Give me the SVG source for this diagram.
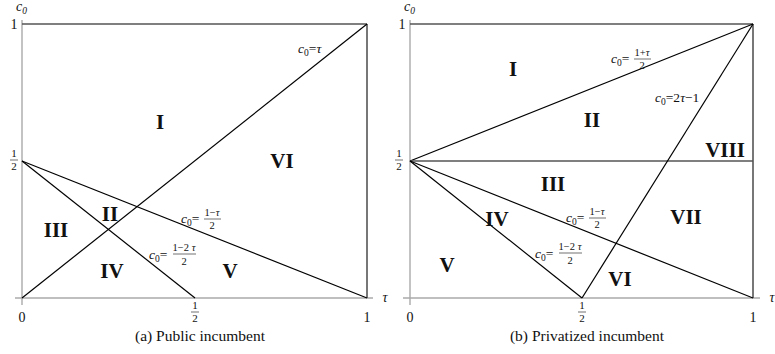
<svg xmlns="http://www.w3.org/2000/svg" width="775" height="354" viewBox="0 0 775 354" font-family="'Liberation Serif', 'DejaVu Serif', serif">
<style>
text{font-family:"Liberation Serif","DejaVu Serif",serif;fill:#111}
.ax{stroke:#aaa;stroke-width:1.4;fill:none}
.fr{stroke:#555;stroke-width:1.6;fill:none}
.ln{stroke:#000;stroke-width:1.2;fill:none}
.rn{font-size:21px;font-weight:bold;text-anchor:middle}
.eq{font-size:13.5px}
.it{font-style:italic}
.sub{font-size:9.5px}
.fn{font-size:10.5px;text-anchor:middle}
.fb{stroke:#111;stroke-width:0.6}
.tk{font-size:14px;text-anchor:middle}
.tf{font-size:11px;text-anchor:middle}
.cap{font-size:15.5px;text-anchor:middle}
</style>
<g id="panel-a-axes">
<line class="ax" x1="22" y1="20" x2="22" y2="305"/>
<line class="ax" x1="15" y1="298" x2="373" y2="298"/>
<line class="fr" x1="22" y1="24" x2="367" y2="24"/>
<line class="fr" x1="367" y1="24" x2="367" y2="298"/>
<text x="16" y="11" class="it" font-size="14">c<tspan class="sub" dy="3">0</tspan></text>
<text x="14" y="29" class="tk">1</text>
<text x="14" y="157" class="tf">1</text><line class="fb" x1="10" y1="160" x2="18" y2="160"/><text x="14" y="170" class="tf">2</text>
<text x="385" y="302" class="it" font-size="14" text-anchor="middle">τ</text>
<text x="22" y="322" class="tk">0</text>
<text x="195" y="309" class="tf">1</text><line class="fb" x1="191" y1="312" x2="199" y2="312"/><text x="195" y="322" class="tf">2</text>
<text x="367" y="322" class="tk">1</text>
<text x="200" y="341" class="cap">(a) Public incumbent</text>
</g>
<g id="connectors-a">
<line class="ln" x1="22" y1="298" x2="367" y2="24"/>
<line class="ln" x1="22" y1="161" x2="367" y2="298"/>
<line class="ln" x1="22" y1="161" x2="195" y2="298"/>
</g>
<g id="regions-a">
<text class="rn" x="160" y="129">I</text>
<text class="rn" x="282" y="168">VI</text>
<text class="rn" x="56" y="237">III</text>
<text class="rn" x="110" y="221">II</text>
<text class="rn" x="112" y="278">IV</text>
<text class="rn" x="230" y="278">V</text>
</g>
<g id="eq-a">
<text class="eq" x="298" y="53"><tspan class="it">c</tspan><tspan class="sub" dy="3">0</tspan><tspan dy="-3">=</tspan><tspan class="it">τ</tspan></text>
<g transform="translate(181,223)">
<text class="eq" x="0" y="0"><tspan class="it">c</tspan><tspan class="sub" dy="3">0</tspan><tspan dy="-3">=</tspan></text>
<text class="fn" x="31" y="-7">1−<tspan class="it">τ</tspan></text><line class="fb" x1="23" y1="-4" x2="40" y2="-4"/><text class="fn" x="31" y="6">2</text>
</g>
<g transform="translate(149,259)">
<text class="eq" x="0" y="0"><tspan class="it">c</tspan><tspan class="sub" dy="3">0</tspan><tspan dy="-3">=</tspan></text>
<text class="fn" x="35" y="-8">1−2 <tspan class="it">τ</tspan></text><line class="fb" x1="24" y1="-5" x2="47" y2="-5"/><text class="fn" x="35" y="6">2</text>
</g>
</g>
<g id="panel-b-axes">
<line class="ax" x1="410" y1="20" x2="410" y2="305"/>
<line class="ax" x1="403" y1="298" x2="760" y2="298"/>
<line class="fr" x1="410" y1="24" x2="753" y2="24"/>
<line class="fr" x1="753" y1="24" x2="753" y2="298"/>
<text x="404" y="11" class="it" font-size="14">c<tspan class="sub" dy="3">0</tspan></text>
<text x="402" y="29" class="tk">1</text>
<text x="399" y="157" class="tf">1</text><line class="fb" x1="395" y1="160" x2="403" y2="160"/><text x="399" y="170" class="tf">2</text>
<text x="772" y="302" class="it" font-size="14" text-anchor="middle">τ</text>
<text x="410" y="322" class="tk">0</text>
<text x="582" y="309" class="tf">1</text><line class="fb" x1="578" y1="312" x2="586" y2="312"/><text x="582" y="322" class="tf">2</text>
<text x="753" y="322" class="tk">1</text>
<text x="587" y="341" class="cap">(b) Privatized incumbent</text>
</g>
<g id="connectors-b">
<line class="ln" x1="410" y1="161" x2="753" y2="24"/>
<line class="fr" x1="410" y1="161" x2="753" y2="161"/>
<line class="ln" x1="410" y1="161" x2="753" y2="298"/>
<line class="ln" x1="410" y1="161" x2="582" y2="298"/>
<line class="ln" x1="582" y1="298" x2="753" y2="24"/>
</g>
<g id="regions-b">
<text class="rn" x="513" y="76">I</text>
<text class="rn" x="592" y="127">II</text>
<text class="rn" x="725" y="157">VIII</text>
<text class="rn" x="553" y="191">III</text>
<text class="rn" x="497" y="226">IV</text>
<text class="rn" x="686" y="224">VII</text>
<text class="rn" x="447" y="272">V</text>
<text class="rn" x="620" y="286">VI</text>
</g>
<g id="eq-b">
<g transform="translate(611,63)">
<text class="eq" x="0" y="0"><tspan class="it">c</tspan><tspan class="sub" dy="3">0</tspan><tspan dy="-3">=</tspan></text>
<text class="fn" x="31" y="-7">1+<tspan class="it">τ</tspan></text><line class="fb" x1="23" y1="-4" x2="40" y2="-4"/><text class="fn" x="31" y="6">2</text>
</g>
<text class="eq" x="655" y="102"><tspan class="it">c</tspan><tspan class="sub" dy="3">0</tspan><tspan dy="-3">=2</tspan><tspan class="it">τ</tspan>−1</text>
<g transform="translate(566,222)">
<text class="eq" x="0" y="0"><tspan class="it">c</tspan><tspan class="sub" dy="3">0</tspan><tspan dy="-3">=</tspan></text>
<text class="fn" x="31" y="-7">1−<tspan class="it">τ</tspan></text><line class="fb" x1="23" y1="-4" x2="40" y2="-4"/><text class="fn" x="31" y="6">2</text>
</g>
<g transform="translate(535,258)">
<text class="eq" x="0" y="0"><tspan class="it">c</tspan><tspan class="sub" dy="3">0</tspan><tspan dy="-3">=</tspan></text>
<text class="fn" x="35" y="-8">1−2 <tspan class="it">τ</tspan></text><line class="fb" x1="24" y1="-5" x2="47" y2="-5"/><text class="fn" x="35" y="6">2</text>
</g>
</g>
</svg>
